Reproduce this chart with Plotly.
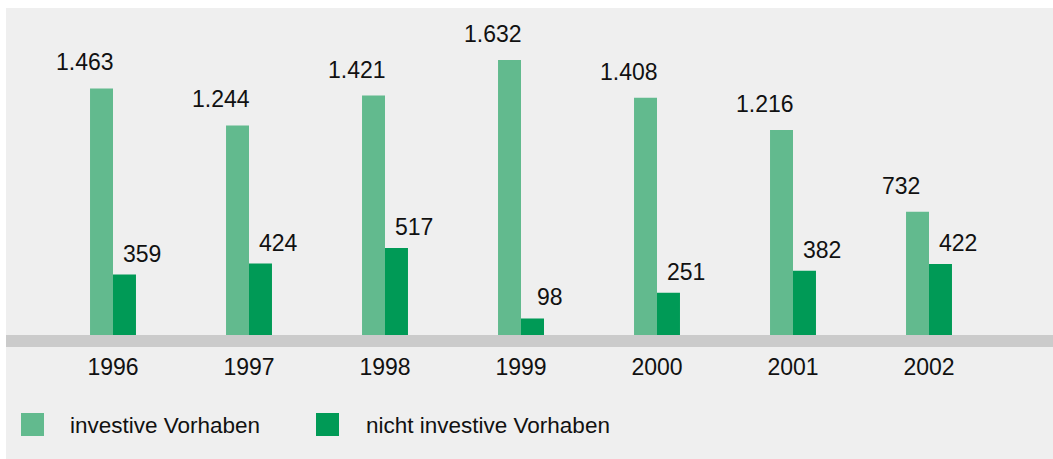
import plotly.graph_objects as go

years = ["1996", "1997", "1998", "1999", "2000", "2001", "2002"]
investive = [1463, 1244, 1421, 1632, 1408, 1216, 732]
nicht_investive = [359, 424, 517, 98, 251, 382, 422]
series_names = ["investive Vorhaben", "nicht investive Vorhaben"]
colors = ["#62ba8e", "#009a56"]

W, H = 1053, 459
ML, MR, MT, MB = 45, 56, 15, 124
PW, PH = W - ML - MR, H - MT - MB
FONT = "Liberation Sans, Arial, sans-serif"
idx = list(range(len(years)))


def px(x):
    return (x - ML) / PW


def py(y):
    return (H - MB - y) / PH


def fmt(v):
    return f"{v:,}".replace(",", ".")


fig = go.Figure()
for name, vals, col in zip(series_names, [investive, nicht_investive], colors):
    fig.add_trace(go.Bar(x=idx, y=vals, name=name, marker=dict(color=col, line=dict(width=0)),
                         showlegend=False, cliponaxis=False, hoverinfo="skip"))

annotations = []
for vals, shift, ys in [(investive, -28, 11), (nicht_investive, 29, 6)]:
    for i, v in zip(idx, vals):
        annotations.append(dict(x=i, y=v, xref="x", yref="y", text=fmt(v), showarrow=False,
                                xanchor="center", yanchor="bottom", xshift=shift, yshift=ys,
                                font=dict(family=FONT, size=23, color="#111111")))

shapes = [
    dict(type="rect", xref="paper", yref="paper", layer="below",
         x0=px(6), x1=px(1053), y0=py(459), y1=py(8),
         fillcolor="#efefef", line=dict(width=0)),
    dict(type="rect", xref="paper", yref="paper", layer="above",
         x0=px(6), x1=px(1053), y0=py(347), y1=py(335),
         fillcolor="#cbcbcb", line=dict(width=0)),
]
leg_sq_x = [21, 316]
leg_txt_x = [68, 364]
for name, col, sx, tx in zip(series_names, colors, leg_sq_x, leg_txt_x):
    shapes.append(dict(type="rect", xref="paper", yref="paper",
                       x0=px(sx), x1=px(sx + 23), y0=py(436), y1=py(413),
                       fillcolor=col, line=dict(width=0)))
    annotations.append(dict(x=px(tx), y=py(425), xref="paper", yref="paper", text=name,
                            showarrow=False, xanchor="left", yanchor="middle",
                            font=dict(family=FONT, size=22.5, color="#111111")))

fig.update_layout(
    width=W, height=H,
    margin=dict(l=ML, r=MR, t=MT, b=MB),
    paper_bgcolor="#ffffff",
    plot_bgcolor="#efefef",
    barmode="group",
    bargap=0.662,
    bargroupgap=0,
    showlegend=False,
    shapes=shapes,
    annotations=annotations,
    xaxis=dict(range=[-0.5, len(years) - 0.5], autorange=False, tickmode="array",
               tickvals=idx, ticktext=years,
               showgrid=False, zeroline=False, showline=False,
               ticks="", ticklabelstandoff=16,
               tickfont=dict(family=FONT, size=23, color="#111111")),
    yaxis=dict(range=[0, PH / 0.1685], autorange=False, showgrid=False, zeroline=False,
               showline=False, showticklabels=False, ticks=""),
)

fig.write_html("out.html", config={"displayModeBar": False},
               post_script="document.body.style.margin='0';document.body.style.overflow='hidden';")
